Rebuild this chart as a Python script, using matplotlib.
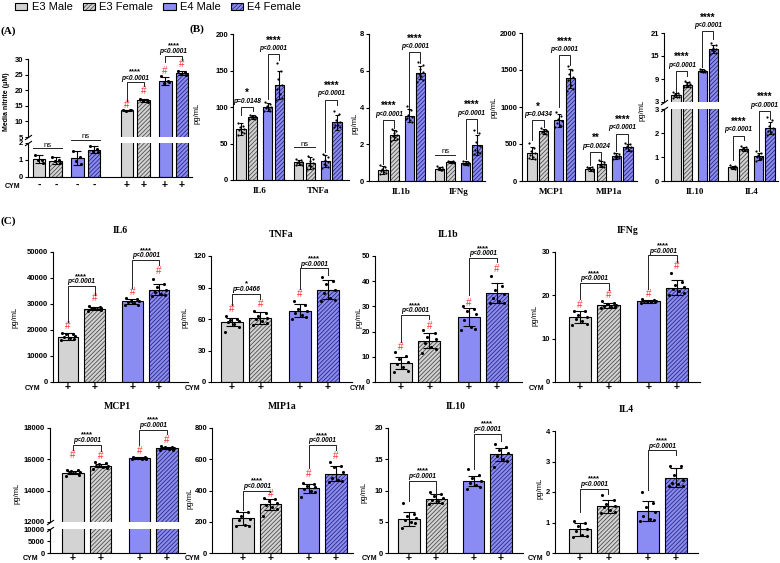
import numpy as np
import matplotlib
matplotlib.use('Agg')
import matplotlib.pyplot as plt
from matplotlib.patches import Patch

plt.rcParams['font.family'] = ['Liberation Sans', 'DejaVu Sans']
plt.rcParams['hatch.linewidth'] = 0.6
plt.rcParams['axes.linewidth'] = 0.8
SERIF = 'Liberation Serif'

# ---------------- data ----------------
groups = ['E3 Male', 'E3 Female', 'E4 Male', 'E4 Female']

# (A) media nitrite (uM); first four without CYM, last four with CYM
a_cym = ['-', '-', '-', '-', '+', '+', '+', '+']
a_mean = [1.05, 0.97, 1.12, 1.60, 13.5, 16.7, 23.0, 25.6]
a_err = [0.25, 0.20, 0.40, 0.20, 0.15, 0.50, 1.30, 0.70]
a_pts = [[1.32, 1.02, 0.98, 0.82], [1.18, 0.98, 0.92, 0.85],
         [1.50, 1.20, 0.95, 0.78], [1.80, 1.62, 1.55, 1.48],
         [13.6, 13.5, 13.4, 13.55], [17.2, 16.9, 16.5, 16.3],
         [24.5, 22.8, 22.2, 22.6], [26.3, 25.9, 25.2, 25.0]]
a_hash = [None, None, None, None, 15.4, 19.6, 26.0, 28.4]
# (i, j, bracket y, left leg end, right leg end, stars, p text)
a_sig = [(0, 1, 1.7, None, None, 'ns', None), (2, 3, 2.2, None, None, 'ns', None),
         (4, 5, 22.5, 16.4, 21.2, '****', 'p<0.0001'), (6, 7, 31.1, 29.0, 29.8, '****', 'p<0.0001')]

# (B) vehicle cytokines, pg/mL, two cytokines per axis
b_names = [['IL6', 'TNFa'], ['IL1b', 'IFNg'], ['MCP1', 'MIP1a'], ['IL10', 'IL4']]
b_mean = [[70, 86, 100, 130, 24, 23, 26, 79],
          [0.6, 2.5, 3.55, 5.9, 0.68, 1.05, 0.98, 1.95],
          [380, 670, 820, 1390, 165, 225, 340, 455],
          [4.8, 7.5, 11.1, 16.8, 0.58, 1.33, 1.03, 2.2]]
b_err = [[8, 3, 6, 19, 4, 8, 8, 10],
         [0.2, 0.25, 0.35, 0.35, 0.1, 0.05, 0.12, 0.55],
         [80, 30, 90, 130, 25, 40, 40, 50],
         [0.5, 0.7, 0.4, 1.0, 0.06, 0.08, 0.15, 0.25]]
b_pts = [
    [[78, 74, 72, 70, 68, 66, 64, 62], [89, 88, 87, 86, 86, 85, 84, 83],
     [107, 104, 102, 100, 99, 97, 95, 94], [160, 150, 138, 130, 124, 118, 113, 110],
     [29, 27, 25, 24, 23, 22, 21, 20], [33, 29, 26, 23, 21, 19, 17, 15],
     [35, 32, 28, 25, 22, 20, 18, 16], [95, 90, 82, 79, 76, 75, 73, 72]],
    [[0.85, 0.75, 0.65, 0.6, 0.55, 0.5, 0.45, 0.4], [2.85, 2.7, 2.6, 2.5, 2.45, 2.4, 2.3, 2.2],
     [4.1, 3.85, 3.6, 3.5, 3.45, 3.3, 3.2, 3.4], [6.5, 6.3, 6.1, 5.95, 5.8, 5.7, 5.5, 5.4],
     [0.8, 0.75, 0.7, 0.68, 0.65, 0.6, 0.58], [1.1, 1.08, 1.06, 1.05, 1.03, 1.02, 1.0],
     [1.1, 1.05, 1.0, 0.98, 0.95, 0.92, 0.88, 0.9], [2.75, 2.6, 2.1, 1.9, 1.7, 1.6, 1.5, 1.45]],
    [[520, 450, 400, 380, 350, 330, 300, 310], [710, 690, 680, 670, 660, 650, 640],
     [930, 880, 840, 810, 790, 760, 740, 730], [1560, 1500, 1440, 1400, 1360, 1300, 1250, 1220],
     [195, 185, 170, 165, 160, 150, 140], [280, 260, 235, 225, 210, 200, 190],
     [380, 365, 350, 340, 330, 320, 310, 300], [520, 500, 470, 455, 440, 420, 410]],
    [[5.6, 5.3, 5.0, 4.8, 4.6, 4.4, 4.2, 4.0], [8.6, 8.2, 7.9, 7.6, 7.4, 7.2, 7.0, 6.8],
     [11.6, 11.4, 11.2, 11.1, 11.0, 10.9, 10.7], [18.5, 17.8, 17.2, 16.8, 16.5, 16.2, 15.9, 15.6],
     [0.65, 0.62, 0.6, 0.58, 0.56, 0.54, 0.5], [1.45, 1.4, 1.36, 1.33, 1.3, 1.28, 1.25],
     [1.25, 1.15, 1.08, 1.02, 0.98, 0.95, 0.9, 0.85], [2.65, 2.55, 2.3, 2.2, 2.1, 2.05, 1.95, 1.9]],
]
b_sig = [
    [(0, 1, 100, 89, 94, '*', 'p=0.0148'), (2, 3, 172, 111, 164, '****', 'p<0.0001'),
     (4, 5, 45, None, None, 'ns', None), (6, 7, 110, 39, 103, '****', 'p<0.0001')],
    [(0, 1, 3.33, 0.9, 2.9, '****', 'p<0.0001'), (2, 3, 7.0, 4.0, 6.4, '****', 'p<0.0001'),
     (4, 5, 1.43, None, None, 'ns', None), (6, 7, 3.37, 1.2, 2.6, '****', 'p<0.0001')],
    [(0, 1, 820, 550, 730, '*', 'p=0.0434'), (2, 3, 1700, 1000, 1563, '****', 'p<0.0001'),
     (4, 5, 392, 210, 290, '**', 'p=0.0024'), (6, 7, 640, 400, 520, '****', 'p<0.0001')],
    [(0, 1, 11.1, 5.5, 9.9, '****', 'p<0.0001'), (2, 3, 21.4, 12.2, 19.4, '****', 'p<0.0001'),
     (4, 5, 1.89, 0.87, 1.69, '****', 'p<0.0001'), (6, 7, 2.92, 1.25, 2.6, '****', 'p<0.0001')],
]

# (C) CYM-stimulated cytokines, pg/mL
c_names = ['IL6', 'TNFa', 'IL1b', 'IFNg', 'MCP1', 'MIP1a', 'IL10', 'IL4']
c_mean = [[17500, 28200, 31000, 35500], [57, 61, 68, 88], [7.5, 16.3, 25.7, 35.4],
          [15.0, 17.7, 18.6, 21.8], [15150, 15600, 16085, 16720], [221, 313, 414, 508],
          [5.5, 8.7, 11.5, 15.8], [0.78, 1.53, 1.37, 2.47]]
c_err = [[1500, 600, 1000, 2200], [4, 6, 6, 9], [2.5, 3.0, 3.5, 4.0], [1.3, 0.6, 0.3, 1.7],
         [100, 110, 50, 80], [40, 35, 30, 50], [1.1, 0.7, 0.8, 1.0], [0.22, 0.22, 0.32, 0.32]]
c_pts = [
    [[18900, 18600, 18300, 17700, 17200, 16800, 16400, 16000], [29300, 28700, 28500, 28300, 28100, 27900, 27700, 27500],
     [32400, 31800, 31300, 31000, 30600, 30200, 29800, 29500], [39600, 37800, 36500, 35500, 34800, 34000, 33500, 33000]],
    [[63, 60, 59, 58, 57, 55, 52, 48], [68, 66, 63, 61, 60, 58, 56, 54],
     [77, 73, 70, 68, 66, 64, 62, 60], [100, 96, 93, 88, 85, 80, 78, 77]],
    [[12, 10.5, 9, 8, 7, 6, 4.5, 4], [20.5, 19.5, 18, 17, 15.5, 14, 13, 11.5],
     [30, 29, 28, 27, 24.5, 22, 21, 20.5], [42, 38, 36.5, 35, 33.5, 32, 31.5, 31.5]],
    [[16.5, 16.3, 15.5, 15, 14.5, 14, 13.5, 13.2], [18.6, 18.3, 18, 17.8, 17.6, 17.4, 17.2, 17],
     [19.1, 18.9, 18.8, 18.7, 18.6, 18.5, 18.4, 18.3], [25.2, 23, 22.5, 22, 21.5, 21, 20.5, 20]],
    [[15350, 15300, 15250, 15200, 15150, 15100, 15000, 14950], [15800, 15750, 15700, 15600, 15550, 15500, 15450, 15400],
     [16150, 16120, 16100, 16080, 16070, 16050, 16030, 16020], [16850, 16800, 16780, 16750, 16700, 16650, 16620, 16600]],
    [[270, 265, 240, 220, 210, 180, 175, 170], [355, 345, 330, 320, 310, 295, 280, 240],
     [450, 440, 430, 420, 410, 400, 390, 360], [580, 560, 550, 520, 480, 470, 460, 455]],
    [[8.0, 6.2, 6.0, 5.6, 5.3, 5.0, 4.8, 4.0], [9.8, 9.5, 9.1, 8.8, 8.5, 8.3, 8.0, 7.9],
     [13.5, 12.5, 12.0, 11.6, 11.2, 10.9, 10.5, 10.2], [17.5, 17.0, 16.5, 16.0, 15.5, 15.0, 14.8, 13.8]],
    [[1.05, 1.0, 0.9, 0.8, 0.72, 0.6, 0.55, 0.52], [1.9, 1.75, 1.6, 1.55, 1.5, 1.4, 1.35, 1.3],
     [2.0, 1.65, 1.5, 1.35, 1.2, 1.1, 1.08, 1.05], [2.85, 2.85, 2.55, 2.4, 2.3, 2.25, 2.2, 2.2]],
]
c_hash = [[21650, 32200, 34500, 42800], [70, 74.6, 83.5, None], [13.9, 22.2, 31.5, 45],
          [17.8, 20, 20.4, 26.8], [16300, 16200, 16530, 17250], [None, 376, 504, 622],
          [None] * 4, [None] * 4]
c_sig = [
    [(0, 1, 37000, 23200, 33500, '****', 'p<0.0001'), (2, 3, 47000, 36000, 45100, '****', 'p<0.0001')],
    [(0, 1, 84.1, 73, 79, '*', 'p=0.0466'), (2, 3, 108.6, 89, 101.6, '****', 'p<0.0001')],
    [(0, 1, 26.7, 15.9, 24.9, '****', 'p<0.0001'), (2, 3, 49.3, 34.4, 47.6, '****', 'p<0.0001')],
    [(0, 1, 22.9, 19.2, 21.2, '****', 'p<0.0001'), (2, 3, 29.2, 21.4, 27.8, '****', 'p<0.0001')],
    [(0, 1, 16940, 16580, 16530, '****', 'p<0.0001'), (2, 3, 17900, 16900, 17640, '****', 'p<0.0001')],
    [(0, 1, 399, 275, 392, '****', 'p<0.0001'), (2, 3, 693, 543, 661, '****', 'p<0.0001')],
    [(0, 1, 11.6, 8.4, 9.5, '****', 'p<0.0001'), (2, 3, 19.1, 13.5, 18.0, '****', 'p<0.0001')],
    [(0, 1, 2.11, 1.34, 1.95, '****', 'p<0.0001'), (2, 3, 3.37, 2.05, 3.2, '****', 'p<0.0001')],
]
c_ticks = [list(range(0, 50001, 10000)), [0, 30, 60, 90, 120], [0, 10, 20, 30, 40, 50], [0, 10, 20, 30],
           [12000, 14000, 16000, 18000], [0, 200, 400, 600, 800], [0, 5, 10, 15, 20], [0, 1, 2, 3, 4]]

# ---------------- style ----------------
W, H = 780, 563
FACE = ['#d3d3d3', '#d3d3d3', '#8b8bf4', '#8b8bf4']
HATCH = [None, '////////', None, '////////']
HCOL = [None, '#505050', None, '#2c2c78']
RED = '#ff3030'
JIT = [-0.28, 0.24, -0.08, 0.32, -0.2, 0.1, 0.3, -0.34]

fig = plt.figure(figsize=(W / 100, H / 100), dpi=100)


def rect(x0, y0, x1, y1):
    return [x0 / W, 1 - y1 / H, (x1 - x0) / W, (y1 - y0) / H]


def xlim_from(x0, x1, c_first, c_last, p_last):
    u = (c_last - c_first) / p_last
    return ((x0 - c_first) / u, (x1 - c_first) / u)


def new_ax(box, xlim, ylim, yticks, bottom=True):
    ax = fig.add_axes(rect(*box))
    ax.patch.set_visible(False)
    ax.set_xlim(xlim)
    ax.set_ylim(ylim)
    ax.set_yticks(yticks)
    ax.set_yticklabels([f'{t:g}' for t in yticks], fontsize=5.5, fontweight='bold')
    ax.tick_params(axis='y', length=2.5, width=0.8, pad=1)
    ax.tick_params(axis='x', length=0)
    ax.set_xticks([])
    ax.spines['top'].set_visible(False)
    ax.spines['right'].set_visible(False)
    if not bottom:
        ax.spines['bottom'].set_visible(False)
    return ax


def break_marks(up, lo):
    kw = dict(marker=[(-1, -0.7), (1, 0.7)], markersize=5, linestyle='none',
              color='black', mec='black', mew=0.8, clip_on=False)
    up.plot([0], [0], transform=up.transAxes, **kw)
    lo.plot([0], [1], transform=lo.transAxes, **kw)


def draw_bars(ax, pos, mean, err, pts, width, cap, ms):
    for k in range(len(pos)):
        s = k % 4
        x, m = pos[k], mean[k]
        if HATCH[s]:
            ax.bar(x, m, width, color=FACE[s], edgecolor=HCOL[s], hatch=HATCH[s], linewidth=0, zorder=2)
            ax.bar(x, m, width, facecolor='none', edgecolor='black', linewidth=0.8, zorder=3)
        else:
            ax.bar(x, m, width, color=FACE[s], edgecolor='black', linewidth=0.8, zorder=2)
        p = np.asarray(pts[k], dtype=float)
        ax.scatter(x + np.array(JIT[:len(p)]) * width, p, s=ms, color='black', linewidths=0, zorder=4)
        ax.errorbar(x, m, yerr=err[k], fmt='none', ecolor='black', elinewidth=0.8,
                    capsize=cap, capthick=0.8, zorder=5)


def draw_sig(ax, pos, width, item, sfs, pfs, p_off, s_off):
    i, j, y, yl, yr, stars, ptxt = item
    x1, x2 = pos[i], pos[j]
    xm = (x1 + x2) / 2
    kw = dict(color='#222222', lw=0.7, clip_on=False, zorder=6)
    if stars == 'ns':
        ax.plot([x1 - width / 2, x2 + width / 2], [y, y], **kw)
        ax.annotate('ns', (xm, y), xytext=(0, 1), textcoords='offset points', ha='center',
                    va='baseline', fontsize=5.5, annotation_clip=False)
        return
    ax.plot([x1, x1, x2, x2], [yl, y, y, yr], **kw)
    ax.annotate(ptxt, (xm, y), xytext=(0, p_off), textcoords='offset points', ha='center', va='bottom',
                fontsize=pfs, fontstyle='italic', fontweight='bold', annotation_clip=False)
    ax.annotate(stars, (xm, y), xytext=(0, s_off), textcoords='offset points', ha='center', va='bottom',
                fontsize=sfs, fontweight='bold', annotation_clip=False)


def draw_hash(axes, pos, hashes):
    for x, h in zip(pos, hashes):
        if h is None:
            continue
        ax = axes[0] if h >= axes[0].get_ylim()[0] else axes[-1]
        ax.text(x, h, '#', color=RED, fontsize=7, ha='center', va='center', clip_on=False, zorder=6)


def pick(axes, y):
    return axes[0] if y >= axes[0].get_ylim()[0] else axes[-1]


def cym_row(ax, pos, labels, pad, xpix, ypix):
    ax.set_xticks(pos)
    ax.set_xticklabels(labels, fontsize=7.5, fontweight='bold')
    ax.tick_params(axis='x', length=0, pad=pad)
    fig.text(xpix / W, 1 - ypix / H, 'CYM', fontsize=5, fontweight='bold', ha='center', va='center')


# ---------------- legend ----------------
handles = []
for s in range(4):
    if HATCH[s]:
        handles.append((Patch(facecolor=FACE[s], edgecolor=HCOL[s], hatch=HATCH[s], linewidth=0),
                        Patch(facecolor='none', edgecolor='black', linewidth=0.8)))
    else:
        handles.append(Patch(facecolor=FACE[s], edgecolor='black', linewidth=0.8))
fig.legend(handles, groups, loc='upper left', bbox_to_anchor=(14 / W, 1 - 1 / H), ncol=4, frameon=False,
           fontsize=8, handlelength=1.1, handleheight=0.55, handletextpad=0.4, columnspacing=0.9,
           borderaxespad=0, borderpad=0.1)

# ---------------- (A) ----------------
a_pos = [0, 1, 2.25, 3.25, 5.2, 6.2, 7.45, 8.45]
a_xlim = xlim_from(28, 192, 39, 182, 8.45)
a_up = new_ax((28, 59, 192, 137), a_xlim, (5, 30), [5, 10, 15, 20, 25, 30], bottom=False)
a_lo = new_ax((28, 143, 192, 177), a_xlim, (0, 2), [0, 1, 2])
break_marks(a_up, a_lo)
for ax in (a_up, a_lo):
    draw_bars(ax, a_pos, a_mean, a_err, a_pts, 0.76, 3, 5)
draw_hash([a_up, a_lo], a_pos, a_hash)
for item in a_sig:
    draw_sig(pick([a_up, a_lo], item[2]), a_pos, 0.76, item, 5.5, 4.8, 0.5, 4.9)
cym_row(a_lo, a_pos, a_cym, 2, 13, 186)
fig.text(7 / W, 1 - 102 / H, 'Media nitrite (\u03bcM)', rotation=90, fontsize=5, fontweight='bold',
         ha='center', va='center')

# ---------------- (B) ----------------
b_pos = [0, 1, 2.3, 3.3, 5, 6, 7.3, 8.3]
b_boxes = [(233, 34, 349, 180), (369, 34, 485, 181), (522, 33, 637, 181), None]
b_cent = [(241, 337), (383, 477), (532, 628), (676, 770)]
b_ticks = [[0, 50, 100, 150, 200], [0, 2, 4, 6, 8], [0, 500, 1000, 1500, 2000], None]
b_ylab = [(197, 113), (355, 123), (494, 107), (642, 110)]
for n in range(4):
    if n < 3:
        x0, y0, x1, y1 = b_boxes[n]
        axes = [new_ax(b_boxes[n], xlim_from(x0, x1, *b_cent[n], 8.3), (0, b_ticks[n][-1]), b_ticks[n])]
    else:
        xl = xlim_from(664, 778, *b_cent[n], 8.3)
        up = new_ax((664, 33, 778, 102), xl, (3, 21), [3, 9, 15, 21], bottom=False)
        lo = new_ax((664, 109, 778, 181), xl, (0, 3), [0, 1, 2, 3])
        break_marks(up, lo)
        axes = [up, lo]
    for ax in axes:
        draw_bars(ax, b_pos, b_mean[n], b_err[n], b_pts[n], 0.8, 1.6, 2.5)
    for item in b_sig[n]:
        draw_sig(pick(axes, item[2]), b_pos, 0.8, item, 7, 4.8, 1.6, 6.3)
    bot = axes[-1]
    bot.set_xticks([1.65, 6.65])
    bot.set_xticklabels(b_names[n], fontfamily=SERIF, fontweight='bold', fontsize=6.5)
    bot.tick_params(axis='x', length=0, pad=5)
    fig.text(b_ylab[n][0] / W, 1 - b_ylab[n][1] / H, 'pg/mL', rotation=90, fontsize=5.5,
             ha='center', va='center')

# ---------------- (C) ----------------
c_pos = [0, 1, 2.4, 3.4]
c_boxes = [(53, 252, 188, 382), (211, 256, 352, 382), (375, 256, 522, 382), (555, 252, 700, 382),
           (50, 428, 185, 522), (212, 428, 353, 553), (388, 428, 523, 553), (555, 431, 698, 553)]
c_cent = [(68, 159), (232, 328), (401, 497), (580, 677), (73, 167), (243, 336), (409, 501), (580, 676)]
c_cym = [(33, 388), (193, 388), (358, 388), (537, 388), (31, 559), (193, 559), (370, 559), (536, 559)]
c_ylab = [(15, 317), (185, 317), (359, 317), (535, 315), (17, 493), (190, 498), (364, 492), (540, 488)]
for n in range(8):
    x0, y0, x1, y1 = c_boxes[n]
    xl = xlim_from(x0, x1, *c_cent[n], 3.4)
    if c_names[n] == 'MCP1':
        up = new_ax(c_boxes[n], xl, (12000, 18000), c_ticks[n], bottom=False)
        lo = new_ax((50, 529, 185, 553), xl, (0, 10000), [0, 5000, 10000])
        break_marks(up, lo)
        axes = [up, lo]
    else:
        axes = [new_ax(c_boxes[n], xl, (0, c_ticks[n][-1]), c_ticks[n])]
    for ax in axes:
        draw_bars(ax, c_pos, c_mean[n], c_err[n], c_pts[n], 0.78, 4.3, 5)
    draw_hash(axes, c_pos, c_hash[n])
    for item in c_sig[n]:
        draw_sig(pick(axes, item[2]), c_pos, 0.78, item, 5.5, 4.8, 0.3, 4.3)
    axes[0].set_title(c_names[n], fontfamily=SERIF, fontweight='bold', fontsize=7, pad=13.5)
    cym_row(axes[-1], c_pos, ['+'] * 4, 0.3, *c_cym[n])
    fig.text(c_ylab[n][0] / W, 1 - c_ylab[n][1] / H, 'pg/mL', rotation=90, fontsize=5.5,
             ha='center', va='center')

# panel letters
for lab, (px, py) in zip(['(A)', '(B)', '(C)'], [(8, 31), (197, 29), (8, 221)]):
    fig.text(px / W, 1 - py / H, lab, fontfamily=SERIF, fontweight='bold', fontsize=8,
             ha='center', va='center')

fig.savefig('out.png', dpi=100)
